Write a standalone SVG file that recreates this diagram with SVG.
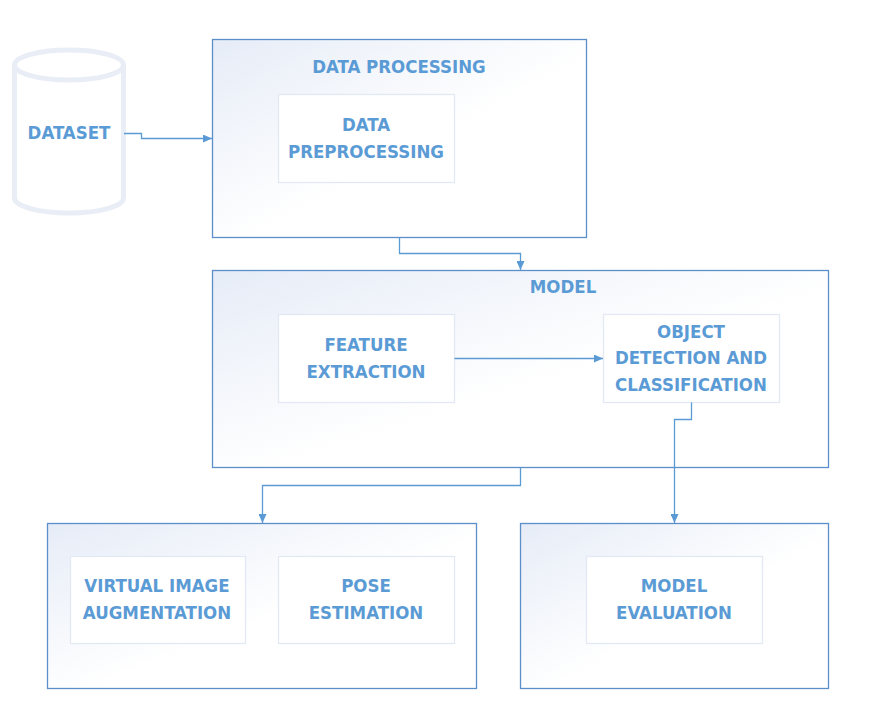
<svg xmlns="http://www.w3.org/2000/svg" width="872" height="704" viewBox="0 0 872 704">
<defs>
<linearGradient id="g" x1="0" y1="0" x2="1" y2="1">
<stop offset="0" stop-color="#e6ecf7"/>
<stop offset="0.55" stop-color="#ffffff"/>
<stop offset="1" stop-color="#ffffff"/>
</linearGradient>
<marker id="ah" markerWidth="10" markerHeight="8" refX="9" refY="4" orient="auto" markerUnits="userSpaceOnUse">
<path d="M0,0 L9,4 L0,8 Z" fill="#5b9bd5"/>
</marker>
<style>
.outer{fill:url(#g);stroke:#5b8fc9;stroke-width:1.3}
.inner{fill:#ffffff;stroke:#e2e9f4;stroke-width:1.3}
.t{font-family:"Liberation Sans Narrow","DejaVu Sans Condensed","Liberation Sans",sans-serif;font-weight:bold;font-size:18.5px;fill:#5b9bd5;text-anchor:middle}
.c{fill:none;stroke:#5b9bd5;stroke-width:1.3;marker-end:url(#ah)}
.cyl{fill:#ffffff;stroke:#e9edf5;stroke-width:5}
</style>
</defs>
<g id="dataset">
<path class="cyl" d="M14.5,65 L14.5,198 A54.5,15 0 0 0 123.5,198 L123.5,65"/>
<ellipse class="cyl" cx="69" cy="65" rx="54.5" ry="15"/>
<text class="t" x="69" y="139">DATASET</text>
</g>
<g id="data-processing">
<rect class="outer" x="212.5" y="39.5" width="374" height="198"/>
<text class="t" x="399" y="73">DATA PROCESSING</text>
<g id="data-preprocessing">
<rect class="inner" x="278.5" y="94.5" width="176" height="88"/>
<text class="t" x="366" y="131">DATA</text>
<text class="t" x="366" y="158">PREPROCESSING</text>
</g>
</g>
<g id="model">
<rect class="outer" x="212.5" y="270.5" width="616" height="197"/>
<text class="t" x="563" y="293">MODEL</text>
<g id="feature-extraction">
<rect class="inner" x="278.5" y="314.5" width="176" height="88"/>
<text class="t" x="366" y="351">FEATURE</text>
<text class="t" x="366" y="378">EXTRACTION</text>
</g>
<g id="object-detection">
<rect class="inner" x="603.5" y="314.5" width="176" height="88"/>
<text class="t" x="691" y="338">OBJECT</text>
<text class="t" x="691" y="364">DETECTION AND</text>
<text class="t" x="691" y="391">CLASSIFICATION</text>
</g>
</g>
<g id="augmentation-group">
<rect class="outer" x="47.5" y="523.5" width="429" height="165"/>
<g id="virtual-image-augmentation">
<rect class="inner" x="70.5" y="556.5" width="175" height="87"/>
<text class="t" x="157" y="592">VIRTUAL IMAGE</text>
<text class="t" x="157" y="619">AUGMENTATION</text>
</g>
<g id="pose-estimation">
<rect class="inner" x="278.5" y="556.5" width="176" height="87"/>
<text class="t" x="366" y="592">POSE</text>
<text class="t" x="366" y="619">ESTIMATION</text>
</g>
</g>
<g id="evaluation-group">
<rect class="outer" x="520.5" y="523.5" width="308" height="165"/>
<g id="model-evaluation">
<rect class="inner" x="586.5" y="556.5" width="176" height="87"/>
<text class="t" x="674" y="592">MODEL</text>
<text class="t" x="674" y="619">EVALUATION</text>
</g>
</g>
<g id="connectors">
<path class="c" d="M124,133.5 H141.5 V138.5 H212"/>
<path class="c" d="M399.5,237.5 V253.5 H520.5 V270"/>
<path class="c" d="M454.5,358.5 H603"/>
<path class="c" d="M691.5,402.5 V419.5 H674.5 V523"/>
<path class="c" d="M520.5,467.5 V485.5 H262.5 V523"/>
</g>
</svg>
